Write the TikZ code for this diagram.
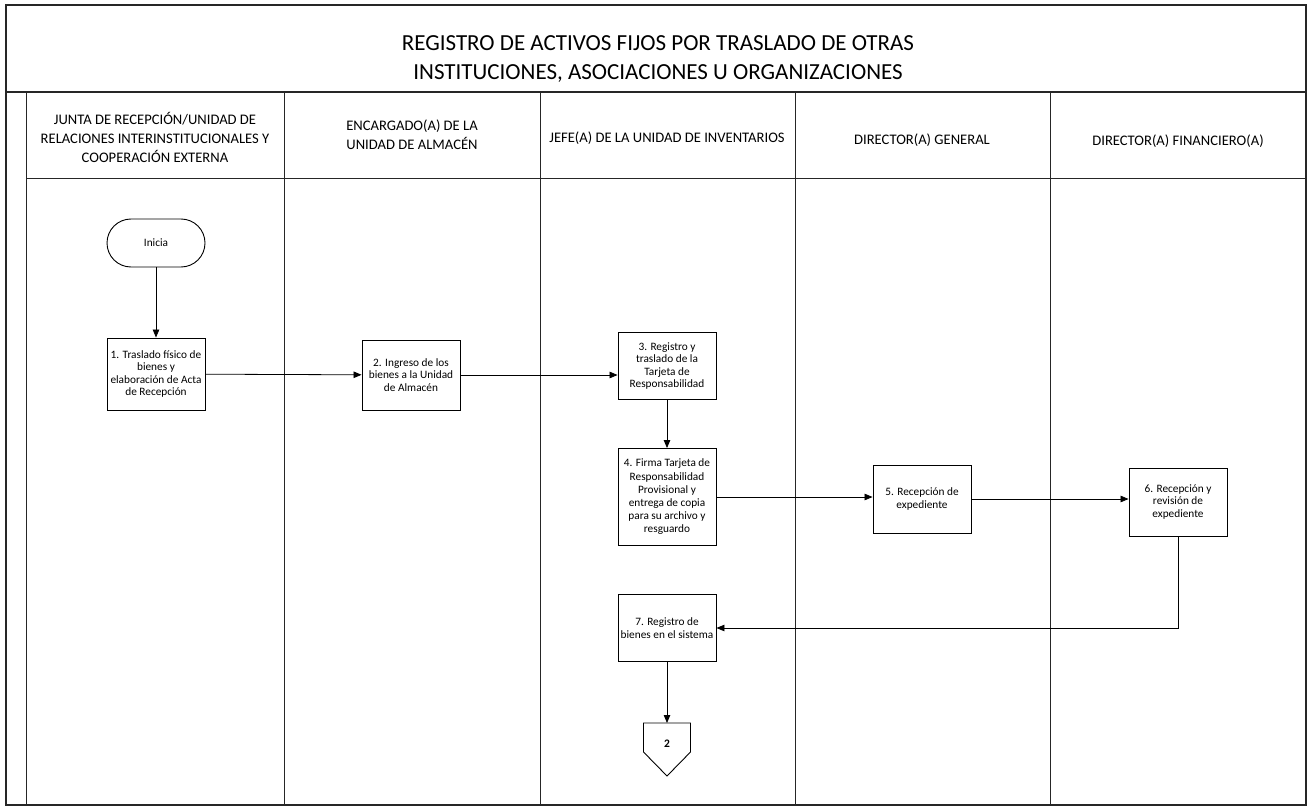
\documentclass[tikz,border=0pt]{standalone}
\usepackage{fontspec}
\setmainfont{Carlito}
\usetikzlibrary{arrows.meta}
\begin{document}
\begin{tikzpicture}[x=1pt,y=-1pt,
  frame/.style={draw=black!85, line width=1.1pt},
  lane/.style={draw=black!85, line width=0.9pt},
  box/.style={draw, line width=0.9pt, align=center, font=\fontsize{11.3}{12.3}\selectfont, minimum width=98, inner sep=1pt},
  term/.style={draw, line width=0.9pt, rounded corners=24, minimum width=98, minimum height=48, font=\fontsize{11.3}{12}\selectfont},
  hdr/.style={align=center, font=\fontsize{14.6}{19}\selectfont},
  conn/.style={draw, line width=0.8pt, -{Triangle[length=8pt,width=6.5pt]}}
]
\useasboundingbox (0,0) rectangle (1313,810);
% frame
\draw[frame] (6,5) rectangle (1306,805);
\draw[frame] (6,92) -- (1306,92);
\draw[lane] (26,178) -- (1306,178);
\draw[lane] (26,92) -- (26,805);
\foreach \xx in {284,540,795,1050} \draw[lane] (\xx,92) -- (\xx,805);
% title
\node[align=center, font=\fontsize{23}{28.5}\selectfont] (title) at (658,59)
  {REGISTRO DE ACTIVOS FIJOS POR TRASLADO DE OTRAS\\INSTITUCIONES, ASOCIACIONES U ORGANIZACIONES};
% lane headers
\node[hdr] (h1) at (155,137) {JUNTA DE RECEPCIÓN/UNIDAD DE\\RELACIONES INTERINSTITUCIONALES Y\\COOPERACIÓN EXTERNA};
\node[hdr] (h2) at (412,135) {ENCARGADO(A) DE LA\\UNIDAD DE ALMACÉN};
\node[hdr] (h3) at (667,138) {JEFE(A) DE LA UNIDAD DE INVENTARIOS};
\node[hdr] (h4) at (922,140) {DIRECTOR(A) GENERAL};
\node[hdr] (h5) at (1178,141) {DIRECTOR(A) FINANCIERO(A)};
% nodes
\node[term] (ini) at (156,243) {Inicia};
\node[box, minimum height=72] (n1) at (156,374) {1. Traslado físico de\\bienes y\\elaboración de Acta\\de Recepción};
\node[box, minimum height=70] (n2) at (411,375) {2. Ingreso de los\\bienes a la Unidad\\de Almacén};
\node[box, minimum height=67] (n3) at (667,366) {3. Registro y\\traslado de la\\Tarjeta de\\Responsabilidad};
\node[box, minimum height=97, font=\fontsize{11.3}{13.2}\selectfont] (n4) at (667,497) {4. Firma Tarjeta de\\Responsabilidad\\Provisional y\\entrega de copia\\para su archivo y\\resguardo};
\node[box, minimum height=68] (n5) at (922,499) {5. Recepción de\\expediente};
\node[box, minimum height=68] (n6) at (1178,502) {6. Recepción y\\revisión de\\expediente};
\node[box, minimum height=67] (n7) at (667,628) {7. Registro de\\bienes en el sistema};
% off-page connector
\draw[line width=0.9pt] (643.5,723) -- (690.5,723) -- (690.5,752) -- (667,776) -- (643.5,752) -- cycle;
\coordinate (c2top) at (667,723);
\node[font=\fontsize{11.5}{12}\selectfont\bfseries] (c2) at (667,744) {2};
% connectors
\draw[conn] (ini) -- (n1);
\draw[conn] (n1) -- (n2);
\draw[conn] (n2.east) -- (n2.east -| n3.west);
\draw[conn] (n3) -- (n4);
\draw[conn] (n4.east) -- (n4.east -| n5.west);
\draw[conn] (n5.east) -- (n5.east -| n6.west);
\draw[conn] (n6.south) |- (n7.east);
\draw[conn] (n7.south) -- (c2top);
\end{tikzpicture}
\end{document}
